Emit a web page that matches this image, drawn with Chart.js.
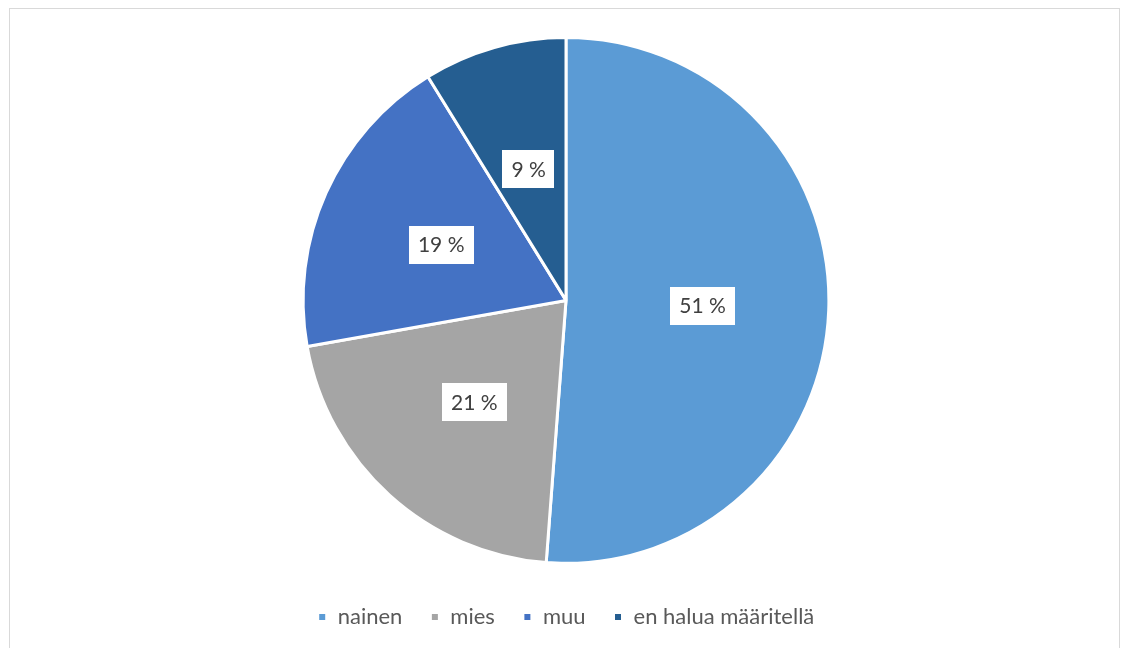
<!DOCTYPE html>
<html>
<head>
<meta charset="utf-8">
<script src="https://cdn.jsdelivr.net/npm/chart.js@4"></script>
<style>
  html, body { margin: 0; padding: 0; background: #fff; }
  #frame {
    position: absolute; left: 9px; top: 8px; width: 1111px; height: 660px;
    border: 1px solid #d9d9d9; box-sizing: border-box;
  }
  #wrap { position: absolute; left: 0; top: 0; width: 1122px; height: 648px; }
</style>
</head>
<body>
<div id="frame"></div>
<div id="wrap"><canvas id="pieChart"></canvas></div>
<script>
const categories = ["nainen", "mies", "muu", "en halua määritellä"];
// slice sizes; labels show them rounded
const shares = [51.2, 21.0, 19.0, 8.8];
const sliceColors = ["#5B9BD5", "#A5A5A5", "#4472C4", "#255E91"];

// white boxes with percentage labels inside each slice
const boxLabels = {
  id: "boxLabels",
  afterDatasetsDraw(chart) {
    const ctx = chart.ctx;
    const meta = chart.getDatasetMeta(0);
    ctx.save();
    ctx.font = "21px Lato, 'Open Sans', sans-serif";
    ctx.textAlign = "center";
    ctx.textBaseline = "middle";
    meta.data.forEach((arc, i) => {
      const p = arc.getProps(["x", "y", "startAngle", "endAngle", "outerRadius"], true);
      const mid = (p.startAngle + p.endAngle) / 2;
      const r = p.outerRadius * 0.52;
      const x = p.x + Math.cos(mid) * r;
      const y = p.y + Math.sin(mid) * r;
      const text = Math.round(shares[i]) + " %";
      const w = ctx.measureText(text).width + 18;
      const h = 38;
      ctx.fillStyle = "#ffffff";
      ctx.fillRect(Math.round(x - w / 2), Math.round(y - h / 2), Math.round(w), h);
      ctx.fillStyle = "#404040";
      ctx.fillText(text, x, y + 1);
    });
    ctx.restore();
  }
};

new Chart(document.getElementById("pieChart"), {
  type: "pie",
  data: {
    labels: categories,
    datasets: [{
      data: shares,
      backgroundColor: sliceColors,
      borderColor: "#ffffff",
      borderWidth: 3
    }]
  },
  options: {
    responsive: true,
    maintainAspectRatio: false,
    animation: false,
    layout: { padding: { top: 36, left: 10, bottom: 10 } },
    plugins: {
      tooltip: { enabled: false },
      legend: {
        position: "bottom",
        // blank title only pushes the legend row down a little
        title: { display: true, text: " ", font: { size: 1 }, padding: { top: 6, bottom: 6 } },
        labels: {
          boxWidth: 9,
          boxHeight: 9,
          padding: 28,
          color: "#595959",
          font: { size: 22, family: "Lato, 'Open Sans', sans-serif" }
        }
      }
    }
  },
  plugins: [boxLabels]
});
</script>
</body>
</html>
